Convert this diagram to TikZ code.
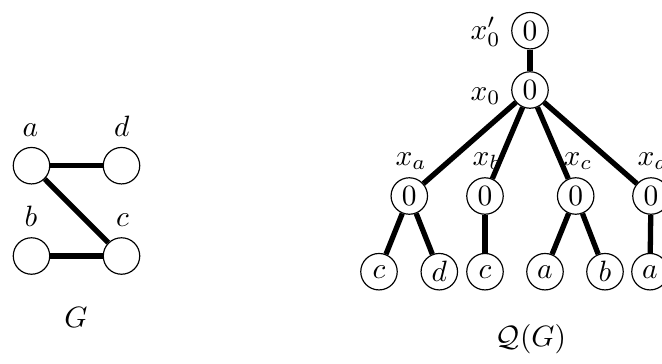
\documentclass[tikz,border=0pt]{standalone}
\begin{document}
\begin{tikzpicture}[x=0.34pt,y=-0.34pt,
  vtx/.style={circle,draw,line width=0.4pt,minimum size=12.4pt,inner sep=0pt},
  edge/.style={line width=1.8pt},
  lbl/.style={inner sep=0pt,anchor=base west},
  clbl/.style={inner sep=0pt,anchor=base}]
\useasboundingbox (0,0) rectangle (662,363);
\clip (0,0) rectangle (662,363);
% graph G
\node[vtx] (a) at (31.5,165.7) {};
\node[vtx] (d) at (121.5,165.7) {};
\node[vtx] (b) at (31.5,256) {};
\node[vtx] (c) at (121.5,256) {};
\node[clbl] (la) at (30.5,136) {$a$};
\node[clbl] (ld) at (121.7,136) {$d$};
\node[clbl] (lb) at (31,226.7) {$b$};
\node[clbl] (lc) at (122.5,226.7) {$c$};
\node[clbl] (lG) at (76,327) {$G$};
\draw[edge] (a) -- (d);
\draw[edge] (a) -- (c);
\draw[edge] (b) -- (c);
% tree Q(G)
\node[vtx] (r0) at (530,30.7) {$0$};
\node[vtx] (x0) at (530,90) {$0$};
\node[vtx] (xa) at (409.3,196) {$0$};
\node[vtx] (xb) at (485,196) {$0$};
\node[vtx] (xc) at (575.7,196) {$0$};
\node[vtx] (xd) at (651,196) {$0$};
\node[vtx] (l1) at (379,271.7) {$c$};
\node[vtx] (l2) at (439.3,271.7) {$d$};
\node[vtx] (l3) at (485,271.7) {$c$};
\node[vtx] (l4) at (545,271.7) {$a$};
\node[vtx] (l5) at (605,271.7) {$b$};
\node[vtx] (l6) at (650,271.7) {$a$};
\node[lbl] (lr0) at (470,39) {$x_0'$};
\node[lbl] (lx0) at (470,100) {$x_0$};
\node[lbl] (lxa) at (395,165) {$x_a$};
\node[lbl] (lxb) at (472,165) {$x_b$};
\node[lbl] (lxc) at (563,165) {$x_c$};
\node[lbl] (lxd) at (637,165) {$x_d$};
\node[clbl] (lQ) at (531,346) {$\mathcal{Q}(G)$};
\draw[edge] (r0) -- (x0);
\draw[edge] (x0) -- (xa);
\draw[edge] (x0) -- (xb);
\draw[edge] (x0) -- (xc);
\draw[edge] (x0) -- (xd);
\draw[edge] (xa) -- (l1);
\draw[edge] (xa) -- (l2);
\draw[edge] (xb) -- (l3);
\draw[edge] (xc) -- (l4);
\draw[edge] (xc) -- (l5);
\draw[edge] (xd) -- (l6);
\end{tikzpicture}
\end{document}
